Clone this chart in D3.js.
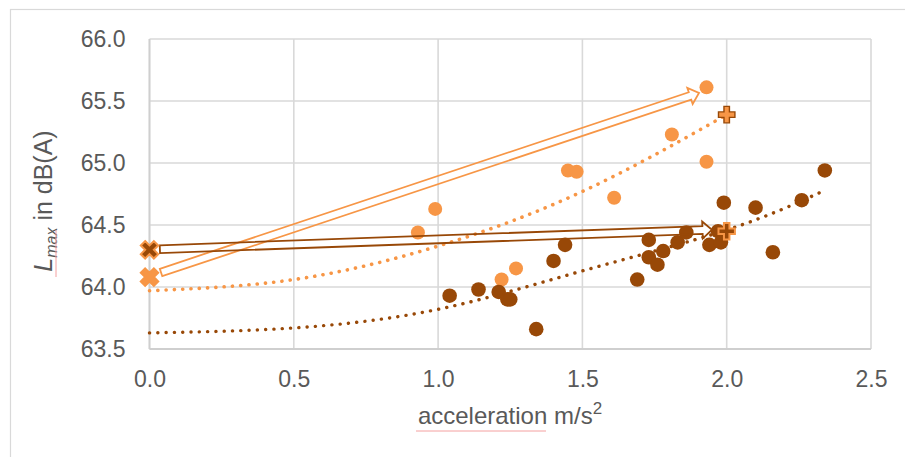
<!DOCTYPE html>
<html><head><meta charset="utf-8">
<script src="https://cdn.jsdelivr.net/npm/d3@7"></script>
<style>body{margin:0;background:#fff;} svg{display:block;font-family:"Liberation Sans",Arial,sans-serif;}</style>
</head><body><svg id="c" width="905" height="457"></svg>
<script>
// ---- data ----
const xTicks = [0, 0.5, 1.0, 1.5, 2.0, 2.5];
const yTicks = [63.5, 64.0, 64.5, 65.0, 65.5, 66.0];
const lightX = [0.93, 0.99, 1.22, 1.27, 1.45, 1.48, 1.61, 1.81, 1.93, 1.93];
const lightY = [64.44, 64.63, 64.06, 64.15, 64.94, 64.93, 64.72, 65.23, 65.61, 65.01];
const darkX = [1.04, 1.14, 1.21, 1.24, 1.25, 1.34, 1.40, 1.44, 1.69, 1.73, 1.73, 1.76, 1.78, 1.83, 1.86, 1.94, 1.97, 1.98, 1.99, 2.10, 2.16, 2.26, 2.34];
const darkY = [63.93, 63.98, 63.96, 63.90, 63.90, 63.66, 64.21, 64.34, 64.06, 64.38, 64.24, 64.18, 64.29, 64.36, 64.44, 64.34, 64.45, 64.36, 64.68, 64.64, 64.28, 64.70, 64.94];
const lightTrendX = [0, 0.5, 1.0, 1.5, 2.0];
const lightTrendY = [63.97, 64.06, 64.33, 64.77, 65.39];
const darkTrendX = [0, 0.5, 1.0, 1.5, 2.0, 2.34];
const darkTrendY = [63.63, 63.67, 63.82, 64.13, 64.46, 64.78];
const crossX = [0, 0];            // measured at 0 acceleration
const crossY = [64.08, 64.30];    // light, dark
const plusX = [2.0, 2.0];
const plusY = [65.39, 64.45];     // light, dark
const arrowFrom = [[0.04, 64.117], [0.036, 64.305]];
const arrowTo = [[1.904, 65.565], [1.949, 64.462]];

const LIGHT = "#f79646", DARK = "#984807", TXT = "#595959";

const svg = d3.select("#c");
const x = d3.scaleLinear().domain([0, 2.5]).range([149.5, 871]);
const y = d3.scaleLinear().domain([63.5, 66]).range([349, 39]);

// outer chart border
svg.append("rect").attr("x", 10.5).attr("y", 9.5).attr("width", 1000).attr("height", 1000)
  .attr("fill", "none").attr("stroke", "#d9d9d9").attr("stroke-width", 1.2);

// gridlines
const g = svg.append("g");
g.selectAll(".hg").data(yTicks).join("line")
  .attr("x1", x(0)).attr("x2", x(2.5)).attr("y1", d => y(d)).attr("y2", d => y(d))
  .attr("stroke", "#d9d9d9").attr("stroke-width", 1.6);
g.selectAll(".vg").data(xTicks).join("line")
  .attr("y1", y(63.5)).attr("y2", y(66)).attr("x1", d => x(d)).attr("x2", d => x(d))
  .attr("stroke", "#d9d9d9").attr("stroke-width", 1.6);
g.append("line").attr("x1", x(0)).attr("x2", x(0)).attr("y1", y(66)).attr("y2", y(63.5))
  .attr("stroke", "#cfcfcf").attr("stroke-width", 1.8);
g.append("line").attr("x1", x(0)).attr("x2", x(2.5)).attr("y1", y(63.5)).attr("y2", y(63.5))
  .attr("stroke", "#cfcfcf").attr("stroke-width", 1.8);

// axes (labels only)
const fmt = d3.format(".1f");
const yAxis = svg.append("g").attr("transform", `translate(${x(0) - 21},0)`)
  .call(d3.axisLeft(y).tickValues(yTicks).tickFormat(fmt).tickSize(0));
const xAxis = svg.append("g").attr("transform", `translate(0,${y(63.5) + 22})`)
  .call(d3.axisBottom(x).tickValues(xTicks).tickFormat(fmt).tickSize(0));
[yAxis, xAxis].forEach(a => {
  a.select(".domain").remove();
  a.selectAll("text").attr("fill", TXT).attr("font-size", 23)
    .attr("font-family", '"Liberation Sans",Arial,sans-serif');
});
xAxis.selectAll("text").attr("dy", "0.71em").attr("y", 0);

// trendlines
const line = d3.line().x(d => x(d[0])).y(d => y(d[1])).curve(d3.curveNatural);
svg.append("path").datum(lightTrendX.map((v, i) => [v, lightTrendY[i]]))
  .attr("d", line).attr("fill", "none").attr("stroke", LIGHT).attr("stroke-width", 3.6)
  .attr("stroke-linecap", "round").attr("stroke-dasharray", "0.1 8.2");
svg.append("path").datum(darkTrendX.map((v, i) => [v, darkTrendY[i]]))
  .attr("d", line).attr("fill", "none").attr("stroke", DARK).attr("stroke-width", 3.4)
  .attr("stroke-linecap", "round").attr("stroke-dasharray", "0.1 8.2");

// points
svg.append("g").selectAll("circle").data(lightX.map((v, i) => [v, lightY[i]])).join("circle")
  .attr("cx", d => x(d[0])).attr("cy", d => y(d[1])).attr("r", 7).attr("fill", LIGHT);
svg.append("g").selectAll("circle").data(darkX.map((v, i) => [v, darkY[i]])).join("circle")
  .attr("cx", d => x(d[0])).attr("cy", d => y(d[1])).attr("r", 7.3).attr("fill", DARK);

// arrows (outlined block arrows)
function arrowPath(p0, p1, w, h, hl) {
  const dx = p1[0] - p0[0], dy = p1[1] - p0[1];
  const L = Math.hypot(dx, dy), ux = dx / L, uy = dy / L, nx = -uy, ny = ux;
  const P = (a, b) => [p0[0] + ux * a + nx * b, p0[1] + uy * a + ny * b];
  const pts = [P(0, -w), P(L - hl, -w), P(L - hl, -h), P(L, 0), P(L - hl, h), P(L - hl, w), P(0, w)];
  return "M" + pts.map(p => p.join(",")).join("L") + "Z";
}
const arrowCols = [LIGHT, DARK];
arrowFrom.forEach((f, i) => {
  const p0 = [x(f[0]), y(f[1])], p1 = [x(arrowTo[i][0]), y(arrowTo[i][1])];
  svg.append("path").attr("d", arrowPath(p0, p1, 3.9, 8.5, 9.5))
    .attr("fill", "none").attr("stroke", arrowCols[i]).attr("stroke-width", 1.8)
    .attr("stroke-linejoin", "miter");
});

// cross markers at 0 and plus markers at 2.0
const crossSym = d3.symbol().type(d3.symbolCross);
const crossFill = [LIGHT, DARK], crossStroke = [LIGHT, LIGHT];
crossX.forEach((v, i) => {
  svg.append("path").attr("d", crossSym.size(190)())
    .attr("transform", `translate(${x(v)},${y(crossY[i])}) rotate(45)`)
    .attr("fill", crossFill[i]).attr("stroke", crossStroke[i]).attr("stroke-width", 2);
});
const plusFill = [LIGHT, DARK], plusStroke = [DARK, LIGHT];
plusX.forEach((v, i) => {
  svg.append("path").attr("d", crossSym.size(150)())
    .attr("transform", `translate(${x(v)},${y(plusY[i])})`)
    .attr("fill", plusFill[i]).attr("stroke", plusStroke[i]).attr("stroke-width", i === 0 ? 1.4 : 2);
});

// axis titles
const xt = svg.append("text").attr("x", 510).attr("y", 424).attr("text-anchor", "middle")
  .attr("fill", TXT).attr("font-size", 24);
xt.append("tspan").text("acceleration m/s");
xt.append("tspan").attr("font-size", 17).attr("dy", -10).text("2");
svg.append("line").attr("x1", 416).attr("x2", 546).attr("y1", 431).attr("y2", 431)
  .attr("stroke", "#f4a0a0").attr("stroke-width", 1);

const yt = svg.append("text").attr("transform", "translate(52,201) rotate(-90)")
  .attr("text-anchor", "middle").attr("fill", TXT).attr("font-size", 25);
yt.append("tspan").attr("font-style", "italic").text("L");
yt.append("tspan").attr("font-style", "italic").attr("font-size", 16).attr("dy", 5).text("max");
yt.append("tspan").attr("dy", -5).text(" in dB(A)");
svg.append("line").attr("x1", 56).attr("x2", 56).attr("y1", 230).attr("y2", 277)
  .attr("stroke", "#f4a0a0").attr("stroke-width", 1);
</script></body></html>
